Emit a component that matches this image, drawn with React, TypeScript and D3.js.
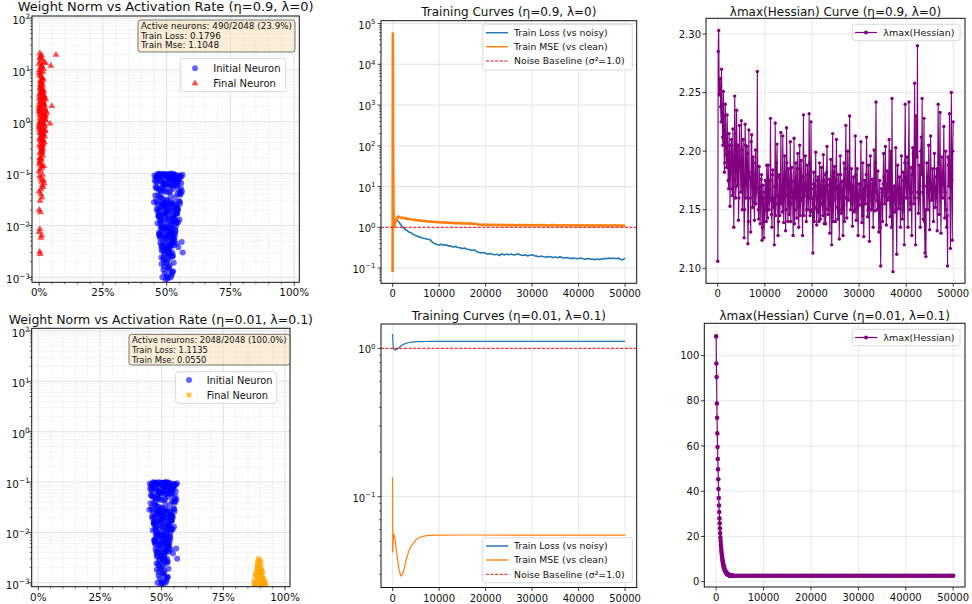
import React from "react";
import * as d3 from "d3";

const FONT = "DejaVu Sans";

// ---------------- data ----------------
const pctTicks = [0, 25, 50, 75, 100];
const pctLabels = ["0%", "25%", "50%", "75%", "100%"];
const stepTicks = [0, 10000, 20000, 30000, 40000, 50000];
const hessTicksA = [2.1, 2.15, 2.2, 2.25, 2.3];
const hessTicksB = [0, 20, 40, 60, 80, 100];

// initial neurons (activation rate %, weight norm) - same initialization in both runs
const initRate = [
  45.2,46.1,47.3,48.0,48.9,49.5,50.2,51.0,51.8,52.5,53.3,54.1,55.0,55.6,46.7,47.9,49.1,50.6,51.4,52.9,53.8,54.6,45.8,48.4,50.0,52.2,53.0,54.9,47.1,49.8,
  51.7,53.5,46.3,48.7,50.9,52.7,54.3,55.3,47.6,49.3,51.2,53.1,45.5,47.0,48.2,49.9,51.5,52.4,54.0,55.8,46.9,48.6,50.4,52.0,53.7,47.4,49.6,51.1,53.9,54.7,
  46.0,48.1,50.7,52.6,55.1,47.8,49.0,50.3,51.9,53.4,45.9,47.2,48.8,50.1,51.6,53.2,54.4,46.5,49.4,52.1,54.8,48.5,50.8,52.8,47.5,49.7,51.3,53.6,46.4,55.4,
  46.2,47.7,48.9,50.1,51.4,52.6,53.8,54.9,47.0,49.2,50.8,52.3,53.6,48.3,50.4,51.9,54.2,46.8,49.6,52.0,
  53.1,55.2,47.4,48.7,50.6,51.6,53.4,54.5,46.5,49.0,51.1,52.8,48.0,50.0,52.5,54.0,47.2,49.4,51.3,53.7,
  46.9,48.5,50.7,52.1,55.0,47.9,49.8,51.7,53.3,48.2,50.2,52.9,46.3,49.1,51.0,54.3,47.6,50.5,52.4,53.9,
  47.0,48.4,49.7,51.0,52.3,53.5,47.8,50.3,51.8,53.0,48.9,50.0,52.6,47.4,49.3,51.4,53.8,48.1,50.7,52.0,
  49.0,51.6,47.6,50.5,52.9,48.6,49.9,51.2,53.3,47.9,50.9,52.2,49.5,51.9,56.3,
  48.0,49.2,50.4,51.6,52.8,48.7,50.0,51.2,52.3,49.6,50.8,52.0,48.3,51.0,49.9,50.5,51.9,49.0,52.5,50.2,
  56.2,45.0,56.0,55.9,47.3,54.6,
  45.6,46.6,47.5,48.3,49.2,50.0,50.9,51.7,52.6,53.4,54.2,55.1,46.1,47.0,47.9,48.8,49.7,50.6,51.5,52.4,
  53.3,54.1,46.4,47.3,48.2,49.1,50.0,50.9,51.8,52.7,53.6,54.5,47.0,47.9,48.8,49.7,50.6,51.5,52.4,53.3,
  47.5,48.4,49.3,50.2,51.1,52.0,52.9,48.0,48.9,49.8,50.7,51.6,52.5,48.6,49.5,50.4,51.3,52.2,49.0,50.8,
  45.3,55.7,46.0,54.8,45.9,55.5,46.8,54.0,47.2,53.9,48.1,52.8,49.4,51.4,50.3,53.1,47.7,51.9,49.6,50.9
];
const initNorm = [
  0.092,0.085,0.098,0.071,0.064,0.088,0.095,0.079,0.058,0.099,0.083,0.067,0.091,0.052,0.076,0.097,0.061,0.089,0.045,0.094,0.072,0.081,0.069,0.056,0.093,0.087,0.074,0.048,0.096,0.063,
  0.084,0.078,0.054,0.099,0.066,0.091,0.059,0.086,0.042,0.073,0.097,0.080,0.038,0.090,0.068,0.095,0.057,0.082,0.075,0.088,0.049,0.093,0.061,0.086,0.070,0.035,0.098,0.077,0.062,0.084,
  0.090,0.053,0.079,0.096,0.041,0.087,0.065,0.092,0.071,0.058,0.083,0.094,0.046,0.089,0.100,0.067,0.076,0.099,0.051,0.085,0.072,0.033,0.097,0.060,0.088,0.044,0.081,0.095,0.069,0.039,
  0.028,0.012,0.021,0.009,0.025,0.016,0.011,0.029,0.019,0.014,0.026,0.010,0.022,0.017,0.013,0.027,0.020,0.015,0.024,0.0085,
  0.018,0.026,0.011,0.023,0.016,0.029,0.013,0.020,0.025,0.0095,0.022,0.014,0.027,0.019,0.012,0.017,0.021,0.028,0.010,0.024,
  0.015,0.026,0.0088,0.020,0.013,0.023,0.018,0.011,0.027,0.016,0.030,0.012,0.019,0.025,0.014,0.022,0.009,0.021,0.026,0.017,
  0.0072,0.0048,0.0063,0.0031,0.0055,0.0078,0.0041,0.0066,0.0026,0.0052,0.0075,0.0035,0.0061,0.0058,0.0029,0.0069,0.0045,0.0037,0.0079,0.0050,
  0.0022,0.0043,0.0065,0.0027,0.0071,0.0033,0.0057,0.0039,0.0068,0.0024,0.0053,0.0030,0.0046,0.0074,0.0030,
  0.0018,0.0012,0.0015,0.0010,0.0019,0.0014,0.0011,0.0017,0.0013,0.0009,0.0016,0.0012,0.0010,0.0014,0.0019,0.00095,0.0011,0.0016,0.0013,0.0010,
  0.095,0.028,0.045,0.0048,0.0068,0.0038,
  0.055,0.038,0.047,0.026,0.062,0.031,0.044,0.019,0.051,0.035,0.041,0.029,0.021,0.016,0.033,0.012,0.024,0.018,0.036,0.014,
  0.022,0.017,0.011,0.0135,0.0092,0.0155,0.0105,0.0125,0.0082,0.0145,0.0098,0.0115,0.0068,0.0078,0.0058,0.0088,0.0062,0.0072,0.0052,0.0083,
  0.0047,0.0039,0.0056,0.0044,0.0035,0.0049,0.0041,0.0033,0.0027,0.0038,0.0031,0.0043,0.0026,0.0023,0.0034,0.0021,0.0029,0.0025,0.0019,0.0023,
  0.074,0.066,0.052,0.091,0.031,0.043,0.0155,0.0205,0.0062,0.0118,0.0095,0.0046,0.0082,0.0064,0.0036,0.0058,0.0125,0.0041,0.0175,0.0028
];

// final neurons, run A (eta=0.9, lambda=0)
const finalRateA = [
  0.0,0.3,0.8,1.2,0.5,1.7,0.1,0.9,2.1,0.4,1.4,0.0,0.7,1.9,0.2,1.1,2.4,0.6,1.5,0.0,
  0.9,1.8,0.3,1.3,2.6,0.5,1.0,0.0,1.6,0.8,2.2,0.4,1.2,0.1,1.9,0.7,2.8,0.0,1.4,0.6,
  1.1,0.2,1.7,0.9,2.0,0.4,1.3,0.0,0.8,2.3,0.5,1.5,0.1,1.0,1.8,0.3,2.5,0.7,1.2,0.0,
  1.6,0.6,2.1,0.2,1.4,0.9,0.0,1.9,0.5,1.1,3.0,0.4,1.7,0.8,0.0,1.3,2.2,0.6,1.0,0.2,
  0.0,1.5,0.7,2.4,0.3,1.2,0.9,1.8,0.1,0.5,
  0.2,0.9,1.5,0.0,0.6,1.1,2.0,0.4,1.3,0.8,0.0,1.7,0.5,0.3,1.0,0.0,0.7,0.2,0.4,0.6,1.2,
  6.6,4.6,5.0,4.3,0.5,1.2,0.3,1.8,2.5,1.0,0.2,
  0.4,1.0,1.6,0.2,0.8,1.4,2.0,0.6,1.2,1.8,0.0,0.5,1.1,1.7,2.3,0.3,0.9,1.5,2.1,0.7,
  1.3,1.9,0.1,0.6,1.2,2.6,0.4,1.0,1.6,0.2,0.8,1.4,2.2,0.5,1.1,1.7,0.3,0.9,1.5,0.0,
  0.6,1.2,1.8,0.4,1.0,2.4,0.2,0.7,1.3,0.9
];
const finalNormA = [
  0.85,2.4,0.32,5.6,1.3,0.6,9.8,0.18,3.1,1.7,0.45,13.0,2.0,0.9,0.25,4.2,1.1,7.5,0.38,0.7,
  3.6,0.14,1.5,0.55,2.7,11.0,0.28,1.9,6.3,0.42,1.2,0.12,3.9,0.8,2.2,0.65,1.6,8.6,0.22,4.8,
  0.35,1.4,10.5,0.5,2.9,0.16,1.0,3.3,0.75,1.8,5.1,0.3,0.95,12.0,2.5,0.48,1.3,0.2,6.8,1.6,
  0.58,3.0,0.4,1.15,7.0,0.27,2.1,0.88,4.5,0.13,1.45,0.62,3.8,0.34,0.11,2.3,0.52,9.0,1.05,0.2,
  1.75,0.44,5.9,0.68,14.5,0.3,2.6,1.25,0.17,4.0,
  0.09,0.07,0.055,0.045,0.08,0.035,0.065,0.03,0.095,0.05,0.02,0.075,0.018,0.0085,0.0065,0.0075,0.0058,0.0031,0.0028,0.04,0.06,
  19.5,12.0,2.0,0.92,18.0,16.0,21.0,14.0,13.5,19.0,17.0,
  0.6,1.1,2.2,0.45,3.4,0.78,1.7,5.3,0.26,1.35,2.8,0.19,0.92,4.1,0.66,7.8,1.55,0.36,2.05,0.5,
  1.2,3.2,0.15,2.6,0.72,1.05,6.1,0.42,2.4,1.6,0.31,5.0,0.82,3.6,0.24,1.45,0.98,0.56,9.2,0.35,
  1.9,0.68,2.9,4.4,0.14,1.3,0.8,3.0,0.46,11.5
];

// final neurons, run B (eta=0.01, lambda=0.1)
const finalRateB = [
  89.3,89.8,88.9,90.2,89.5,88.6,90.0,89.1,90.5,88.8,89.6,90.3,88.4,89.9,91.0,88.2,89.4,90.7,87.9,90.1,
  88.7,91.3,89.2,90.9,87.6,89.7,91.6,88.3,90.4,92.0,87.4,89.0,91.2,88.5,90.6,92.3,87.8,89.5,91.8,88.1
];
const finalNormB = [
  0.0030,0.0028,0.0026,0.0025,0.0024,0.0022,0.0021,0.0020,0.0019,0.0019,0.0018,0.0017,0.0017,0.0016,0.0016,0.0015,0.0015,0.0014,0.0014,0.0013,
  0.0013,0.0012,0.0012,0.0012,0.0011,0.0011,0.0011,0.0010,0.0010,0.0010,0.00095,0.00095,0.0009,0.0009,0.0009,0.00088,0.00086,0.00085,0.00085,0.00084
];

// training curves run A
const LOG_EVERY = 500;
const lossAEarlySteps = [0, 100, 300, 600, 900];
const lossAEarly = [0.95, 0.9, 1.15, 1.4, 1.55];
const lossAStart = 1000;
const lossA = [
  1.50,1.28,1.06,0.93,0.85,0.77,0.73,0.66,0.63,0.59,0.57,0.54,0.53,0.51,0.50,0.44,0.40,0.38,0.37,0.385,
  0.36,0.375,0.35,0.345,0.33,0.34,0.32,0.315,0.30,0.31,0.29,0.285,0.27,0.28,0.26,0.245,0.235,0.24,0.23,0.22,
  0.228,0.218,0.212,0.218,0.203,0.222,0.21,0.22,0.213,0.221,0.209,0.216,0.222,0.21,0.205,0.212,0.2,0.207,0.212,0.2,
  0.196,0.19,0.197,0.19,0.186,0.192,0.19,0.181,0.186,0.18,0.19,0.18,0.176,0.182,0.176,0.171,0.176,0.17,0.171,0.176,
  0.17,0.166,0.171,0.165,0.166,0.161,0.166,0.161,0.166,0.171,0.17,0.176,0.171,0.176,0.17,0.175,0.165,0.158,0.175
];
const mseAEarlySteps = [0, 50, 120, 200, 300, 500, 800, 1200, 1500];
const mseAEarly = [0.08, 60000, 40, 2.5, 1.0, 1.25, 1.55, 1.82, 1.76];
const mseAStart = 2000;
const mseA = [
  1.72,1.68,1.63,1.60,1.57,1.54,1.50,1.49,1.46,1.45,1.42,1.41,1.38,1.37,1.35,1.34,1.33,1.31,1.32,1.30,
  1.29,1.30,1.28,1.27,1.28,1.26,1.25,1.26,1.24,1.23,1.24,1.22,1.20,1.17,1.16,1.17,1.15,1.16,1.15,1.14,
  1.15,1.14,1.15,1.14,1.13,1.14,1.13,1.14,1.13,1.12,1.13,1.14,1.13,1.12,1.13,1.12,1.13,1.12,1.12,1.13,
  1.12,1.13,1.12,1.11,1.12,1.13,1.12,1.11,1.12,1.11,1.12,1.12,1.11,1.12,1.11,1.12,1.11,1.12,1.11,1.11,
  1.12,1.11,1.12,1.11,1.11,1.12,1.11,1.11,1.12,1.11,1.11,1.12,1.11,1.10,1.11,1.11,1.10
];

// training curves run B
const lossBSteps = [0, 50, 150, 300, 500, 700, 1000, 1500, 2000, 2500, 3000, 3500, 4000, 5000, 6000, 7000, 8000, 10000, 15000, 20000, 30000, 40000, 50000];
const lossB = [1.25, 1.12, 1.02, 0.98, 0.972, 0.976, 0.99, 1.02, 1.05, 1.07, 1.085, 1.095, 1.102, 1.108, 1.111, 1.112, 1.113, 1.1135, 1.1135, 1.1135, 1.1135, 1.1135, 1.1135];
const mseBSteps = [0, 20, 60, 120, 200, 300, 400, 500, 600, 800, 1000, 1200, 1500, 1800, 2100, 2500, 3000, 3500, 4000, 5000, 6000, 7000, 8000, 10000, 15000, 20000, 30000, 40000, 50000];
const mseB = [0.135, 0.042, 0.044, 0.05, 0.054, 0.0555, 0.0545, 0.052, 0.049, 0.044, 0.039, 0.035, 0.031, 0.0292, 0.0298, 0.033, 0.0385, 0.043, 0.0465, 0.0512, 0.0535, 0.0545, 0.0549, 0.0551, 0.0552, 0.0552, 0.0551, 0.0551, 0.055];
const noiseBaseline = 1.0;

// lambda_max(Hessian) run A: evaluated every 100 steps (even-hundred and odd-hundred evaluations)
const HESS_A_EVERY = 200;
const HESS_A_ODD_OFFSET = 100;
const hessA = [
  2.106,2.303,2.255,2.238,2.270,2.212,2.251,2.182,2.240,2.197,2.231,
  2.175,2.215,2.153,2.205,2.168,2.219,2.135,2.247,2.160,2.235,
  2.171,2.141,2.222,2.185,2.226,2.150,2.210,2.126,2.223,2.160,
  2.204,2.121,2.218,2.178,2.131,2.214,2.152,2.190,2.141,2.201,
  2.165,2.268,2.150,2.187,2.138,2.176,2.124,2.171,2.126,2.165,
  2.150,2.188,2.143,2.172,2.158,2.228,2.146,2.180,2.152,2.120,
  2.224,2.155,2.206,2.128,2.178,2.145,2.216,2.160,2.213,2.139,
  2.196,2.132,2.220,2.162,2.185,2.146,2.208,2.155,2.174,2.128,
  2.211,2.150,2.190,2.143,2.198,2.135,2.205,2.158,2.179,2.128,
  2.231,2.162,2.196,2.140,2.188,2.150,2.232,2.145,2.225,2.160,
  2.113,2.182,2.152,2.199,2.137,2.175,2.148,2.190,2.142,2.186,
  2.155,2.197,2.138,2.180,2.151,2.204,2.146,2.171,2.130,2.193,
  2.120,2.215,2.158,2.187,2.140,2.210,2.152,2.180,2.125,2.196,
  2.147,2.174,2.128,2.190,2.160,2.222,2.143,2.200,2.158,2.230,
  2.150,2.185,2.136,2.178,2.148,2.213,2.141,2.185,2.128,2.172,
  2.154,2.208,2.139,2.190,2.127,2.175,2.155,2.212,2.144,2.188,
  2.123,2.196,2.150,2.176,2.135,2.201,2.149,2.242,2.158,2.183,
  2.131,2.175,2.102,2.168,2.140,2.198,2.155,2.204,2.137,2.183,
  2.160,2.210,2.144,2.172,2.245,2.097,2.170,2.148,2.203,2.112,
  2.188,2.151,2.178,2.135,2.196,2.142,2.182,2.120,2.240,2.160,
  2.195,2.135,2.242,2.150,2.186,2.128,2.203,2.155,2.258,2.120,
  2.196,2.290,2.147,2.188,2.135,2.212,2.245,2.142,2.228,2.113,
  2.110,2.190,2.150,2.205,2.133,2.213,2.158,2.185,2.140,2.198,
  2.152,2.178,2.132,2.240,2.146,2.233,2.130,2.195,2.160,2.221,
  2.143,2.200,2.135,2.102,2.188,2.232,2.117,2.250,2.124,2.225
];
const hessAOdd = [
  2.285,2.248,2.262,2.225,2.240,2.205,2.230,2.190,2.215,2.186,
  2.205,2.168,2.199,2.182,2.210,2.162,2.190,2.175,2.215,2.170,
  2.195,2.205,2.160,2.192,2.165,2.201,2.170,2.180,2.150,2.205,
  2.172,2.198,2.140,2.182,2.160,2.208,2.170,2.195,2.156,2.180,
  2.155,2.180,2.168,2.142,2.170,2.155,2.180,2.135,2.160,2.140,
  2.175,2.140,2.165,2.188,2.150,2.175,2.160,2.135,2.184,2.160,
  2.170,2.145,2.190,2.162,2.140,2.180,2.170,2.155,2.148,2.176,
  2.160,2.180,2.150,2.190,2.140,2.172,2.165,2.140,2.186,2.160,
  2.165,2.138,2.176,2.160,2.185,2.152,2.170,2.145,2.192,2.160,
  2.178,2.145,2.168,2.172,2.150,2.180,2.160,2.190,2.148,2.168,
  2.150,2.172,2.140,2.170,2.162,2.150,2.178,2.140,2.168,2.155,
  2.170,2.145,2.175,2.160,2.138,2.182,2.165,2.150,2.176,2.158,
  2.165,2.170,2.140,2.182,2.160,2.175,2.168,2.142,2.170,2.160,
  2.180,2.150,2.162,2.175,2.140,2.185,2.170,2.160,2.176,2.168,
  2.172,2.160,2.155,2.170,2.162,2.150,2.180,2.165,2.152,2.160,
  2.162,2.172,2.160,2.145,2.168,2.155,2.162,2.180,2.170,2.150,
  2.158,2.170,2.165,2.150,2.172,2.160,2.176,2.190,2.165,2.150,
  2.160,2.150,2.135,2.155,2.165,2.172,2.178,2.162,2.170,2.158,
  2.172,2.180,2.158,2.200,2.135,2.160,2.162,2.170,2.158,2.150,
  2.165,2.170,2.162,2.155,2.168,2.160,2.150,2.175,2.190,2.175,
  2.170,2.160,2.190,2.170,2.155,2.165,2.180,2.198,2.200,2.160,
  2.230,2.195,2.165,2.160,2.170,2.200,2.180,2.165,2.172,2.140,
  2.150,2.170,2.178,2.165,2.168,2.172,2.170,2.160,2.165,2.170,
  2.168,2.160,2.185,2.180,2.190,2.178,2.165,2.172,2.180,2.175,
  2.172,2.165,2.150,2.145,2.195,2.170,2.160,2.185,2.175,2.200
];

// lambda_max(Hessian) run B: every 50 steps early, every 500 steps afterwards
const HESS_B_EARLY_EVERY = 50;
const hessBEarly = [
  108.5,96.5,90.5,78.8,72.5,65.6,59.6,54.3,49.7,45.3,41.0,37.0,33.7,30.8,28.0,25.8,23.6,21.5,19.6,18.0,
  16.5,15.1,13.9,12.8,11.8,10.9,10.1,9.4,8.7,8.1,7.6,7.1,6.7,6.3,5.9,5.6,5.3,5.0,4.8,4.6,
  4.4,4.2,4.05,3.9,3.75,3.62,3.5,3.4,3.31,3.23,3.16,3.09,3.03,2.98,2.93,2.89,2.85,2.82,2.79,2.76,
  2.74,2.72,2.70,2.69,2.68,2.67,2.66,2.66,2.65
];
const HESS_B_TAIL_START = 3500;
const HESS_B_TAIL_EVERY = 500;
const hessBTail = [
  2.65,2.65,2.64,2.65,2.65,2.64,2.65,2.65,2.65,2.64,2.65,2.65,2.64,2.65,2.65,2.65,2.64,2.65,2.65,2.65,
  2.64,2.65,2.65,2.65,2.64,2.65,2.65,2.65,2.64,2.65,2.65,2.65,2.64,2.65,2.65,2.65,2.64,2.65,2.65,2.65,
  2.64,2.65,2.65,2.65,2.64,2.65,2.65,2.65,2.64,2.65,2.65,2.65,2.64,2.65,2.65,2.65,2.64,2.65,2.65,2.65,
  2.64,2.65,2.65,2.65,2.64,2.65,2.65,2.65,2.64,2.65,2.65,2.65,2.64,2.65,2.65,2.65,2.64,2.65,2.65,2.65,
  2.64,2.65,2.65,2.65,2.64,2.65,2.65,2.65,2.64,2.65,2.65,2.65,2.64,2.65
];

const statsA = ["Active neurons: 490/2048 (23.9%)", "Train Loss: 0.1796", "Train Mse: 1.1048"];
const statsB = ["Active neurons: 2048/2048 (100.0%)", "Train Loss: 1.1135", "Train Mse: 0.0550"];

// ---------------- helpers ----------------
type F = { x0: number; x1: number; y0: number; y1: number };

const sup = (e: number) => (e < 0 ? "\u2212" + -e : String(e));

function logTicks(domain: number[]) {
  const lo = Math.floor(Math.log10(domain[0]));
  const hi = Math.ceil(Math.log10(domain[1]));
  const major: number[] = [];
  const minor: number[] = [];
  for (let e = lo; e <= hi; e++) {
    const v = Math.pow(10, e);
    if (v >= domain[0] && v <= domain[1]) major.push(e);
    for (let m = 2; m <= 9; m++) {
      const mv = m * v;
      if (mv >= domain[0] && mv <= domain[1]) minor.push(mv);
    }
  }
  return { major, minor };
}

function Frame({ f }: { f: F }) {
  return <rect x={f.x0} y={f.y0} width={f.x1 - f.x0} height={f.y1 - f.y0} fill="none" stroke="#111" strokeWidth={1} />;
}

function LogY({ f, y, grid, minorGrid, labelGap, fs = 10, dyBase = 5 }: any) {
  const { major, minor } = logTicks(y.domain());
  return (
    <g>
      {minorGrid && minor.map((v: number, i: number) => (
        <line key={"mg" + i} x1={f.x0} x2={f.x1} y1={y(v)} y2={y(v)} stroke="#ececec" strokeWidth={0.6} />
      ))}
      {grid && major.map((e: number) => (
        <line key={"g" + e} x1={f.x0} x2={f.x1} y1={y(Math.pow(10, e))} y2={y(Math.pow(10, e))} stroke="#dcdcdc" strokeWidth={0.8} />
      ))}
      {minor.map((v: number, i: number) => (
        <line key={"mt" + i} x1={f.x0 - 2} x2={f.x0} y1={y(v)} y2={y(v)} stroke="#111" strokeWidth={0.6} />
      ))}
      {major.map((e: number) => {
        const py = y(Math.pow(10, e));
        return (
          <g key={"t" + e}>
            <line x1={f.x0 - 3.5} x2={f.x0} y1={py} y2={py} stroke="#111" strokeWidth={0.8} />
            <text x={f.x0 - labelGap} y={py + dyBase} textAnchor="end" fontSize={fs} fill="#111" style={{ fontFamily: FONT }}>
              10<tspan dy={-4.6} fontSize={fs * 0.7}>{sup(e)}</tspan>
            </text>
          </g>
        );
      })}
    </g>
  );
}

function LinY({ f, y, ticks, fmt, grid, labelGap }: any) {
  return (
    <g>
      {grid && ticks.map((t: number) => (
        <line key={"g" + t} x1={f.x0} x2={f.x1} y1={y(t)} y2={y(t)} stroke="#e2e2e2" strokeWidth={0.8} />
      ))}
      {ticks.map((t: number) => (
        <g key={"t" + t}>
          <line x1={f.x0 - 3.5} x2={f.x0} y1={y(t)} y2={y(t)} stroke="#111" strokeWidth={0.8} />
          <text x={f.x0 - labelGap} y={y(t) + 3.6} textAnchor="end" fontSize={10} fill="#111" style={{ fontFamily: FONT }}>{fmt(t)}</text>
        </g>
      ))}
    </g>
  );
}

function LinX({ f, x, ticks, labels, grid, minorTicks, minorGrid, fs = 10 }: any) {
  return (
    <g>
      {minorGrid && minorTicks.map((t: number) => (
        <line key={"mg" + t} x1={x(t)} x2={x(t)} y1={f.y0} y2={f.y1} stroke="#ececec" strokeWidth={0.6} />
      ))}
      {grid && ticks.map((t: number) => (
        <line key={"g" + t} x1={x(t)} x2={x(t)} y1={f.y0} y2={f.y1} stroke={minorGrid ? "#dcdcdc" : "#e2e2e2"} strokeWidth={0.8} />
      ))}
      {minorTicks && minorTicks.map((t: number) => (
        <line key={"mt" + t} x1={x(t)} x2={x(t)} y1={f.y1} y2={f.y1 + 2} stroke="#111" strokeWidth={0.6} />
      ))}
      {ticks.map((t: number, i: number) => (
        <g key={"t" + t}>
          <line x1={x(t)} x2={x(t)} y1={f.y1} y2={f.y1 + 3.5} stroke="#111" strokeWidth={0.8} />
          <text x={x(t)} y={f.y1 + 14} textAnchor="middle" fontSize={fs} fill="#111" style={{ fontFamily: FONT }}>{labels[i]}</text>
        </g>
      ))}
    </g>
  );
}

function StatsBox({ x, y, w, h, lines, fs }: any) {
  return (
    <g>
      <rect x={x} y={y} width={w} height={h} rx={2.5} fill="#f5deb3" fillOpacity={0.5} stroke="#555" strokeWidth={0.8} />
      {lines.map((s: string, i: number) => (
        <text key={i} x={x + 3} y={y + 8.8 + i * 9.7} fontSize={fs} fill="#111" style={{ fontFamily: FONT }}>{s}</text>
      ))}
    </g>
  );
}

function LegendBox({ x, y, w, h }: any) {
  return <rect x={x} y={y} width={w} height={h} rx={2.5} fill="#fff" fillOpacity={0.85} stroke="#d0d0d0" strokeWidth={0.8} />;
}

function T({ children, ...p }: any) {
  return <text fill="#111" style={{ fontFamily: FONT }} {...p}>{children}</text>;
}

const tri = d3.symbol().type(d3.symbolTriangle).size(20)() as string;

const minorPct = d3.range(0, 101, 5).filter((v) => v % 25 !== 0);

export default function App() {
  // ---- frames ----
  const F1: F = { x0: 32, x1: 299.3, y0: 16, y1: 282.3 };
  const F2: F = { x0: 381, x1: 636.7, y0: 20.7, y1: 283.3 };
  const F3: F = { x0: 706, x1: 965, y0: 18.3, y1: 283.3 };
  const F4: F = { x0: 31.7, x1: 290, y0: 328.3, y1: 586.7 };
  const F5: F = { x0: 381, x1: 636.7, y0: 324, y1: 587.5 };
  const F6: F = { x0: 704.3, x1: 965, y0: 323.3, y1: 587 };

  // ---- scales ----
  const x1 = d3.scaleLinear().domain([-2.8, 102]).range([F1.x0, F1.x1]);
  const y1 = d3.scaleLog().domain([Math.pow(10, -3.096), Math.pow(10, 2.039)]).range([F1.y1, F1.y0]);
  const x4 = d3.scaleLinear().domain([-2.68, 102.03]).range([F4.x0, F4.x1]);
  const y4 = d3.scaleLog().domain([Math.pow(10, -3.079), Math.pow(10, 2.054)]).range([F4.y1, F4.y0]);

  const x2 = d3.scaleLinear().domain([-2500, 52500]).range([F2.x0, F2.x1]);
  const y2 = d3.scaleLog().domain([Math.pow(10, -1.374), Math.pow(10, 5.07)]).range([F2.y1, F2.y0]);
  const x5 = d3.scaleLinear().domain([-2500, 52500]).range([F5.x0, F5.x1]);
  const y5 = d3.scaleLog().domain([Math.pow(10, -1.612), Math.pow(10, 0.164)]).range([F5.y1, F5.y0]);

  const x3 = d3.scaleLinear().domain([-2500, 52500]).range([F3.x0, F3.x1]);
  const y3 = d3.scaleLinear().domain([2.0872, 2.3134]).range([F3.y1, F3.y0]);
  const x6 = d3.scaleLinear().domain([-2500, 52500]).range([F6.x0, F6.x1]);
  const y6 = d3.scaleLinear().domain([-2.35, 114.3]).range([F6.y1, F6.y0]);

  // ---- series ----
  const lossAPts: [number, number][] = [
    ...lossAEarlySteps.map((s, i) => [s, lossAEarly[i]] as [number, number]),
    ...lossA.map((v, i) => [lossAStart + i * LOG_EVERY, v] as [number, number]),
  ];
  const mseAPts: [number, number][] = [
    ...mseAEarlySteps.map((s, i) => [s, mseAEarly[i]] as [number, number]),
    ...mseA.map((v, i) => [mseAStart + i * LOG_EVERY, v] as [number, number]),
  ];
  const lossBPts = lossBSteps.map((s, i) => [s, lossB[i]] as [number, number]);
  const mseBPts = mseBSteps.map((s, i) => [s, mseB[i]] as [number, number]);
  const hessAPts: [number, number][] = [];
  hessA.forEach((v, i) => {
    hessAPts.push([i * HESS_A_EVERY, v]);
    if (i < hessAOdd.length) hessAPts.push([i * HESS_A_EVERY + HESS_A_ODD_OFFSET, hessAOdd[i]]);
  });
  const hessBPts: [number, number][] = [
    ...hessBEarly.map((v, i) => [i * HESS_B_EARLY_EVERY, v] as [number, number]),
    ...hessBTail.map((v, i) => [HESS_B_TAIL_START + i * HESS_B_TAIL_EVERY, v] as [number, number]),
  ];

  const line = (x: any, y: any) => d3.line<[number, number]>().x((d) => x(d[0])).y((d) => y(d[1]));

  const blue = "#1f77b4";
  const orange = "#ff7f0e";
  const purple = "#800080";

  const clip = (id: string, f: F) => (
    <clipPath id={id}><rect x={f.x0} y={f.y0} width={f.x1 - f.x0} height={f.y1 - f.y0} /></clipPath>
  );

  return (
    <svg width={972} height={604} viewBox="0 0 972 604" style={{ position: "absolute", left: 0, top: 0, background: "#fff", fontFamily: FONT }}>
      <defs>
        {clip("c1", F1)}{clip("c2", F2)}{clip("c3", F3)}{clip("c4", F4)}{clip("c5", F5)}{clip("c6", F6)}
      </defs>
      <rect x={0} y={0} width={972} height={604} fill="#fff" />

      {/* ===== Panel 1: scatter run A ===== */}
      <LinX f={F1} x={x1} ticks={pctTicks} labels={pctLabels} grid minorTicks={minorPct} minorGrid fs={10.4} />
      <LogY f={F1} y={y1} grid minorGrid labelGap={2} fs={10.4} dyBase={5.8} />
      <g clipPath="url(#c1)">
        {initRate.map((r, i) => (
          <circle key={"i" + i} cx={x1(r)} cy={y1(initNorm[i])} r={3} fill="#0000ff" fillOpacity={0.6} />
        ))}
        {finalRateA.map((r, i) => (
          <path key={"f" + i} d={tri} transform={`translate(${x1(r)},${y1(finalNormA[i])})`} fill="#ff0000" fillOpacity={0.7} />
        ))}
      </g>
      <Frame f={F1} />
      <StatsBox x={138} y={20} w={157} h={32} lines={statsA} fs={8.8} />
      <LegendBox x={180.7} y={58.3} w={105} h={33.4} />
      <circle cx={195} cy={68.3} r={3} fill="#0000ff" fillOpacity={0.6} />
      <T x={213.3} y={71.8} fontSize={10}>Initial Neuron</T>
      <path d={tri} transform="translate(195,83.3)" fill="#ff0000" fillOpacity={0.7} />
      <T x={213.3} y={86.8} fontSize={10}>Final Neuron</T>
      <T x={165.6} y={11.4} fontSize={13} textAnchor="middle">Weight Norm vs Activation Rate (η=0.9, λ=0)</T>

      {/* ===== Panel 2: training curves run A ===== */}
      <LinX f={F2} x={x2} ticks={stepTicks} labels={stepTicks.map(String)} grid />
      <LogY f={F2} y={y2} grid labelGap={5.5} />
      <g clipPath="url(#c2)">
        <path d={line(x2, y2)(lossAPts) as string} fill="none" stroke={blue} strokeWidth={1.6} />
        <path d={line(x2, y2)(mseAPts) as string} fill="none" stroke={orange} strokeWidth={2.6} />
        <line x1={F2.x0} x2={F2.x1} y1={y2(noiseBaseline)} y2={y2(noiseBaseline)} stroke="#ff0000" strokeWidth={1} strokeDasharray="3,1.6" />
      </g>
      <Frame f={F2} />
      <LegendBox x={482.7} y={24.3} w={149.6} h={45.7} />
      <line x1={486} x2={508} y1={32.7} y2={32.7} stroke={blue} strokeWidth={1.5} />
      <T x={514} y={36} fontSize={9.3}>Train Loss (vs noisy)</T>
      <line x1={486} x2={508} y1={46.7} y2={46.7} stroke={orange} strokeWidth={1.5} />
      <T x={514} y={50} fontSize={9.3}>Train MSE (vs clean)</T>
      <line x1={486} x2={508} y1={61} y2={61} stroke="#ff0000" strokeWidth={1} strokeDasharray="3,1.6" />
      <T x={514} y={64.3} fontSize={9.3}>Noise Baseline (σ²=1.0)</T>
      <T x={(F2.x0 + F2.x1) / 2} y={16.2} fontSize={12} textAnchor="middle">Training Curves (η=0.9, λ=0)</T>

      {/* ===== Panel 3: hessian run A ===== */}
      <LinX f={F3} x={x3} ticks={stepTicks} labels={stepTicks.map(String)} grid />
      <LinY f={F3} y={y3} ticks={hessTicksA} fmt={(t: number) => t.toFixed(2)} grid labelGap={5} />
      <g clipPath="url(#c3)">
        <path d={line(x3, y3)(hessAPts) as string} fill="none" stroke={purple} strokeWidth={1.1} />
        {hessAPts.map((d, i) => (
          <circle key={i} cx={x3(d[0])} cy={y3(d[1])} r={1.7} fill={purple} />
        ))}
      </g>
      <Frame f={F3} />
      <LegendBox x={852.3} y={24.3} w={107.7} h={16.4} />
      <line x1={855} x2={877} y1={32.5} y2={32.5} stroke={purple} strokeWidth={1.2} />
      <circle cx={866} cy={32.5} r={2} fill={purple} />
      <T x={883.3} y={35.8} fontSize={9.5}>λmax(Hessian)</T>
      <T x={(F3.x0 + F3.x1) / 2} y={16.2} fontSize={12} textAnchor="middle">λmax(Hessian) Curve (η=0.9, λ=0)</T>

      {/* ===== Panel 4: scatter run B ===== */}
      <LinX f={F4} x={x4} ticks={pctTicks} labels={pctLabels} grid minorTicks={minorPct} minorGrid fs={10.4} />
      <LogY f={F4} y={y4} grid minorGrid labelGap={2} fs={10.4} dyBase={5.8} />
      <g clipPath="url(#c4)">
        {initRate.map((r, i) => (
          <circle key={"i" + i} cx={x4(r)} cy={y4(initNorm[i])} r={3} fill="#0000ff" fillOpacity={0.6} />
        ))}
        {finalRateB.map((r, i) => (
          <rect key={"f" + i} x={x4(r) - 2.4} y={y4(finalNormB[i]) - 2.4} width={4.8} height={4.8} fill="#ffa500" fillOpacity={0.7} />
        ))}
      </g>
      <Frame f={F4} />
      <StatsBox x={129} y={334.3} w={161} h={30.7} lines={statsB} fs={8.4} />
      <LegendBox x={175.7} y={371.7} w={101} h={31.6} />
      <circle cx={189} cy={380} r={3} fill="#0000ff" fillOpacity={0.6} />
      <T x={206.7} y={383.5} fontSize={9.8}>Initial Neuron</T>
      <rect x={186.6} y={392.6} width={4.8} height={4.8} fill="#ffa500" fillOpacity={0.7} />
      <T x={206.7} y={398.5} fontSize={9.8}>Final Neuron</T>
      <T x={160.8} y={323.8} fontSize={12.5} textAnchor="middle">Weight Norm vs Activation Rate (η=0.01, λ=0.1)</T>

      {/* ===== Panel 5: training curves run B ===== */}
      <LinX f={F5} x={x5} ticks={stepTicks} labels={stepTicks.map(String)} grid />
      <LogY f={F5} y={y5} grid labelGap={5.5} />
      <g clipPath="url(#c5)">
        <path d={line(x5, y5)(lossBPts) as string} fill="none" stroke={blue} strokeWidth={1.2} />
        <path d={line(x5, y5)(mseBPts) as string} fill="none" stroke={orange} strokeWidth={1.2} />
        <line x1={F5.x0} x2={F5.x1} y1={y5(noiseBaseline)} y2={y5(noiseBaseline)} stroke="#ff0000" strokeWidth={1} strokeDasharray="3,1.6" />
      </g>
      <Frame f={F5} />
      <LegendBox x={482.7} y={537.7} w={149.6} h={45} />
      <line x1={486} x2={508} y1={546} y2={546} stroke={blue} strokeWidth={1.5} />
      <T x={514} y={549.3} fontSize={9.3}>Train Loss (vs noisy)</T>
      <line x1={486} x2={508} y1={560} y2={560} stroke={orange} strokeWidth={2} strokeOpacity={0.7} />
      <T x={514} y={563.3} fontSize={9.3}>Train MSE (vs clean)</T>
      <line x1={486} x2={508} y1={574.3} y2={574.3} stroke="#ff0000" strokeWidth={1} strokeDasharray="3,1.6" />
      <T x={514} y={577.6} fontSize={9.3}>Noise Baseline (σ²=1.0)</T>
      <T x={(F5.x0 + F5.x1) / 2} y={320.3} fontSize={12} textAnchor="middle">Training Curves (η=0.01, λ=0.1)</T>

      {/* ===== Panel 6: hessian run B ===== */}
      <LinX f={F6} x={x6} ticks={stepTicks} labels={stepTicks.map(String)} grid />
      <LinY f={F6} y={y6} ticks={hessTicksB} fmt={(t: number) => String(t)} grid labelGap={5} />
      <g clipPath="url(#c6)">
        <path d={line(x6, y6)(hessBPts) as string} fill="none" stroke={purple} strokeWidth={1.2} />
        {hessBPts.map((d, i) => (
          <circle key={i} cx={x6(d[0])} cy={y6(d[1])} r={2.3} fill={purple} />
        ))}
      </g>
      <Frame f={F6} />
      <LegendBox x={852.3} y={329.3} w={107.7} h={16.4} />
      <line x1={855} x2={877} y1={337.5} y2={337.5} stroke={purple} strokeWidth={1.2} />
      <circle cx={866} cy={337.5} r={2} fill={purple} />
      <T x={883.3} y={340.8} fontSize={9.5}>λmax(Hessian)</T>
      <T x={(F6.x0 + F6.x1) / 2} y={320.3} fontSize={12} textAnchor="middle">λmax(Hessian) Curve (η=0.01, λ=0.1)</T>
    </svg>
  );
}
